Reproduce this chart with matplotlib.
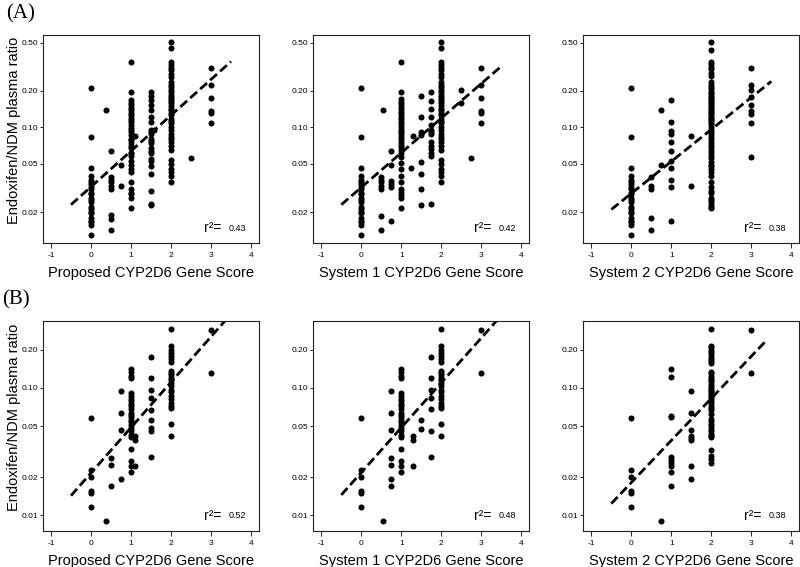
import numpy as np
import matplotlib
matplotlib.use("Agg")
import matplotlib.pyplot as plt

plt.rcParams['font.family'] = ['Liberation Sans', 'DejaVu Sans']

# ---------------- data: score -> endoxifen/NDM ratios ----------------
col0_A = [0.21, 0.083, 0.046, 0.040, 0.037, 0.0355, 0.034, 0.032, 0.031, 0.029, 0.028, 0.026,
          0.025, 0.024, 0.022, 0.021, 0.020, 0.0195, 0.018, 0.017, 0.0164, 0.0155, 0.013]
col2_A12 = [0.51, 0.449, 0.349, 0.327, 0.31, 0.296, 0.274, 0.262, 0.238, 0.226, 0.216, 0.203,
            0.197, 0.187, 0.18, 0.171, 0.165, 0.159, 0.15, 0.143, 0.139, 0.132, 0.126, 0.118,
            0.113, 0.108, 0.101, 0.095, 0.089, 0.084, 0.080, 0.076, 0.070, 0.065, 0.054, 0.050,
            0.0457, 0.043, 0.040, 0.0355]
col3_A12 = [0.307, 0.226, 0.176, 0.137, 0.131, 0.108]

A1 = {0: col0_A,
      0.375: [0.14],
      0.5: [0.064, 0.039, 0.037, 0.0355, 0.033, 0.031, 0.019, 0.0175, 0.0143],
      0.75: [0.049, 0.033],
      1: [0.35, 0.197, 0.168, 0.158, 0.153, 0.146, 0.139, 0.132, 0.126, 0.120, 0.115, 0.110,
          0.104, 0.099, 0.095, 0.091, 0.086, 0.081, 0.078, 0.074, 0.070, 0.067, 0.062, 0.061,
          0.058, 0.053, 0.049, 0.045, 0.043, 0.0355, 0.031, 0.029, 0.028, 0.026, 0.0217],
      1.1: [0.085],
      1.5: [0.197, 0.183, 0.168, 0.153, 0.139, 0.123, 0.110, 0.096, 0.092, 0.088, 0.081, 0.077,
            0.074, 0.068, 0.064, 0.061, 0.055, 0.053, 0.048, 0.041, 0.030, 0.0235, 0.023],
      1.58: [0.095],
      2: col2_A12,
      2.5: [0.056],
      3: col3_A12}

A2 = {0: col0_A,
      0.5: [0.039, 0.037, 0.0355, 0.033, 0.031, 0.0185, 0.0143],
      0.55: [0.14],
      0.75: [0.064, 0.049, 0.036, 0.034, 0.032, 0.017],
      1: [0.349, 0.197, 0.171, 0.163, 0.155, 0.148, 0.142, 0.135, 0.128, 0.123, 0.117, 0.111,
          0.106, 0.101, 0.096, 0.092, 0.088, 0.084, 0.080, 0.076, 0.072, 0.069, 0.065, 0.061,
          0.057, 0.051, 0.045, 0.040, 0.0355, 0.031, 0.0295, 0.0275, 0.026, 0.0214],
      1.25: [0.046],
      1.3: [0.085],
      1.5: [0.183, 0.123, 0.092, 0.086, 0.052, 0.041, 0.031, 0.023],
      1.75: [0.197, 0.165, 0.142, 0.123, 0.104, 0.096, 0.092, 0.088, 0.076, 0.070, 0.066,
             0.062, 0.058, 0.0235],
      2: col2_A12,
      2.5: [0.203, 0.159],
      2.75: [0.056],
      3: col3_A12}

A3 = {0: col0_A,
      0.5: [0.039, 0.033, 0.031, 0.018, 0.0143],
      0.75: [0.14, 0.049],
      1: [0.170, 0.110, 0.093, 0.088, 0.076, 0.064, 0.053, 0.046, 0.037, 0.032, 0.017],
      1.5: [0.085, 0.033],
      2: [0.51, 0.44, 0.349, 0.331, 0.316, 0.303, 0.284, 0.267, 0.238, 0.226, 0.216, 0.207,
          0.197, 0.191, 0.185, 0.179, 0.174, 0.168, 0.163, 0.158, 0.153, 0.148, 0.143, 0.139,
          0.135, 0.131, 0.126, 0.123, 0.118, 0.115, 0.110, 0.106, 0.101, 0.096, 0.092, 0.088,
          0.084, 0.080, 0.076, 0.072, 0.069, 0.065, 0.061, 0.058, 0.056, 0.052, 0.049, 0.048,
          0.045, 0.043, 0.040, 0.0355, 0.032, 0.030, 0.029, 0.026, 0.025, 0.0243, 0.023,
          0.022, 0.0214],
      3: [0.307, 0.226, 0.203, 0.179, 0.153, 0.137, 0.128, 0.108, 0.057]}

col0_B = [0.058, 0.0226, 0.020, 0.0156, 0.015, 0.0116]
col1_B12 = [0.141, 0.133, 0.125, 0.120, 0.0913, 0.087, 0.082, 0.0786, 0.0753, 0.0718, 0.068,
            0.064, 0.0618, 0.0592, 0.0564, 0.0538, 0.051, 0.0485, 0.0463, 0.0431, 0.0413,
            0.0332, 0.0266, 0.0246, 0.0218]
col2_B12 = [0.29, 0.215, 0.2, 0.188, 0.177, 0.169, 0.159, 0.135, 0.131, 0.127, 0.12, 0.116,
            0.1095, 0.104, 0.097, 0.0925, 0.087, 0.082, 0.0763, 0.0718, 0.070, 0.0525, 0.0422]

B1 = {0: col0_B,
      0.375: [0.009],
      0.5: [0.028, 0.0248, 0.0171],
      0.75: [0.094, 0.0636, 0.047, 0.0193],
      1: col1_B12,
      1.1: [0.0417, 0.039, 0.0246],
      1.5: [0.175, 0.12, 0.097, 0.0834, 0.0676, 0.0564, 0.0485, 0.0463, 0.029],
      2: col2_B12,
      3: [0.287, 0.13]}

B2 = {0: col0_B,
      0.55: [0.009],
      0.75: [0.094, 0.064, 0.047, 0.028, 0.0248, 0.0193, 0.0171],
      1: col1_B12,
      1.3: [0.0417, 0.039, 0.0246],
      1.5: [0.0564, 0.048],
      1.75: [0.175, 0.12, 0.097, 0.083, 0.068, 0.046, 0.029],
      2: col2_B12,
      3: [0.284, 0.13]}

B3 = {0: col0_B,
      0.75: [0.009],
      1: [0.141, 0.122, 0.0606, 0.0592, 0.0287, 0.0274, 0.026, 0.0246, 0.0218, 0.0171],
      1.5: [0.094, 0.064, 0.047, 0.0422, 0.0405, 0.039, 0.0246, 0.0193],
      2: [0.29, 0.215, 0.21, 0.2, 0.191, 0.183, 0.175, 0.169, 0.162, 0.157, 0.133, 0.13,
          0.125, 0.12, 0.116, 0.113, 0.108, 0.104, 0.1, 0.097, 0.094, 0.0913, 0.0886, 0.085,
          0.082, 0.0786, 0.0763, 0.0727, 0.070, 0.067, 0.063, 0.057, 0.0547, 0.0525, 0.050,
          0.0477, 0.0457, 0.0438, 0.0422, 0.0413, 0.0328, 0.0294, 0.0277, 0.026],
      3: [0.284, 0.13]}

# regression line end points (score, ratio)
fit_x = {'A1': [-0.5, 3.5], 'A2': [-0.5, 3.5], 'A3': [-0.5, 3.5],
         'B1': [-0.5, 3.5], 'B2': [-0.5, 3.5], 'B3': [-0.5, 3.4]}
fit_y = {'A1': [0.023, 0.35], 'A2': [0.023, 0.32], 'A3': [0.021, 0.24],
         'B1': [0.0143, 0.38], 'B2': [0.0145, 0.37], 'B3': [0.0124, 0.24]}
r2 = {'A1': '0.43', 'A2': '0.42', 'A3': '0.38', 'B1': '0.52', 'B2': '0.48', 'B3': '0.38'}

xlabels = ['Proposed CYP2D6 Gene Score', 'System 1 CYP2D6 Gene Score', 'System 2 CYP2D6 Gene Score']
ylabel = 'Endoxifen/NDM plasma ratio'
xticks = [-1, 0, 1, 2, 3, 4]
yticks_A = [0.02, 0.05, 0.10, 0.20, 0.50]
yticks_B = [0.01, 0.02, 0.05, 0.10, 0.20]
ylim_A = (0.0111, 0.58)
ylim_B = (0.0076, 0.335)

# ---------------- figure ----------------
W, H = 800, 567
fig = plt.figure(figsize=(8, 5.67), dpi=100)

lefts = [43, 313.3, 583.3]
width = 216
rows = {'A': (35, 243), 'B': (321, 530.7)}

panels = {'A1': A1, 'A2': A2, 'A3': A3, 'B1': B1, 'B2': B2, 'B3': B3}

for row, (top, bot) in rows.items():
    for ci, left in enumerate(lefts):
        key = f'{row}{ci+1}'
        ax = fig.add_axes([left / W, 1 - bot / H, width / W, (bot - top) / H])
        data = panels[key]
        xs = np.concatenate([np.full(len(v), k, dtype=float) for k, v in data.items()])
        ys = np.concatenate([np.asarray(v, dtype=float) for v in data.values()])
        ax.scatter(xs, ys, s=19, color='black', linewidths=0, zorder=3)
        ax.plot(fit_x[key], fit_y[key], color='black', lw=2.0,
                linestyle=(0, (3.3, 1.5)), zorder=2, solid_capstyle='butt',
                dash_capstyle='butt')
        ax.set_yscale('log')
        ax.set_xlim(-1.2, 4.2)
        if row == 'A':
            ax.set_ylim(*ylim_A)
            yt = yticks_A
        else:
            ax.set_ylim(*ylim_B)
            yt = yticks_B
        ax.set_yticks(yt)
        ax.set_yticklabels([f'{v:.2f}' for v in yt])
        ax.yaxis.set_minor_locator(matplotlib.ticker.NullLocator())
        ax.set_xticks(xticks)
        ax.set_xticklabels([str(v) for v in xticks])
        ax.tick_params(axis='both', direction='out', length=3.5, width=0.7,
                       labelsize=6, pad=3, color='#222222')
        ax.tick_params(axis='y', length=2, pad=1.5)
        for sp in ax.spines.values():
            sp.set_linewidth(0.8)
            sp.set_color('#222222')
        ax.set_xlabel(xlabels[ci], fontsize=10.5)
        ax.xaxis.set_label_coords(0.5, -0.11)
        if ci == 0:
            ax.set_ylabel(ylabel, fontsize=10.5)
            ax.yaxis.set_label_coords(-0.10, 0.54)
        ax.text(0.745, 0.072, 'r²=', transform=ax.transAxes, fontsize=10,
                ha='left', va='center')
        ax.text(0.86, 0.072, r2[key], transform=ax.transAxes, fontsize=6.5,
                ha='left', va='center')

fig.text(6 / W, 1 - 14 / H, '(A)', fontsize=15, family='Liberation Serif',
         ha='left', va='center')
fig.text(2 / W, 1 - 300 / H, '(B)', fontsize=15, family='Liberation Serif',
         ha='left', va='center')

fig.savefig('out.png', dpi=100)
